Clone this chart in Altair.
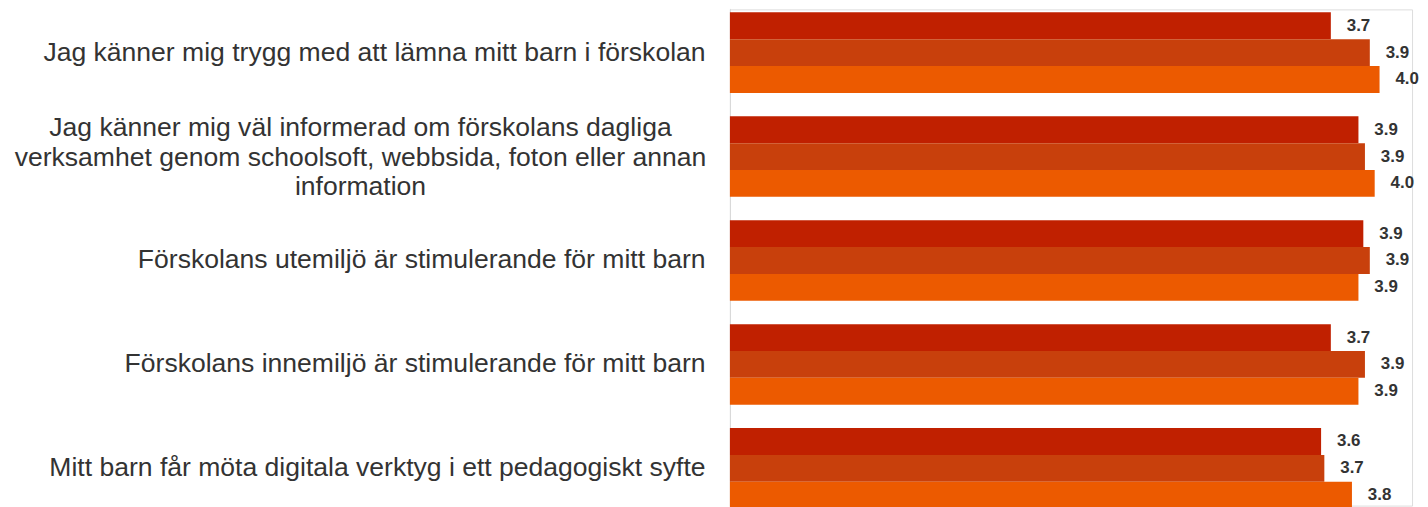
import json
import altair as alt
import pandas as pd

categories = [
    "Jag känner mig trygg med att lämna mitt barn i förskolan",
    "Jag känner mig väl informerad om förskolans dagliga verksamhet genom schoolsoft, webbsida, foton eller annan information",
    "Förskolans utemiljö är stimulerande för mitt barn",
    "Förskolans innemiljö är stimulerande för mitt barn",
    "Mitt barn får möta digitala verktyg i ett pedagogiskt syfte",
]
series = ["Serie 1", "Serie 2", "Serie 3"]
serie1 = [3.70, 3.87, 3.90, 3.70, 3.64]
serie2 = [3.94, 3.91, 3.94, 3.91, 3.66]
serie3 = [4.00, 3.97, 3.87, 3.87, 3.83]
colors = ["#C02000", "#C8400C", "#EC5A00"]

rows = []
for i, c in enumerate(categories):
    for s, vals in zip(series, [serie1, serie2, serie3]):
        rows.append({"category": c, "series": s, "value": vals[i]})
df = pd.DataFrame(rows)

long_label = categories[1]
long_lines = [
    "Jag känner mig väl informerad om förskolans dagliga",
    "verksamhet genom schoolsoft, webbsida, foton eller annan",
    "information",
]
long_json = json.dumps(long_label, ensure_ascii=False)

common_axis = dict(
    title=None,
    ticks=False,
    grid=False,
    labelFont="Liberation Sans",
    labelFontSize=26.7,
    labelColor="#333333",
    labelLimit=1000,
    labelLineHeight=29.5,
)

axis_single = alt.Axis(
    orient="left",
    domain=True,
    domainColor="#d9d9d9",
    labelPadding=25,
    labelExpr="datum.value == %s ? '' : datum.value" % long_json,
    **common_axis,
)
axis_multi = alt.Axis(
    orient="left",
    domain=False,
    labelPadding=372,
    labelAlign="center",
    labelOffset=-28.5,
    labelExpr="datum.value == %s ? %s : ''" % (long_json, json.dumps(long_lines, ensure_ascii=False)),
    **common_axis,
)

y_scale = alt.Scale(paddingInner=0.225, paddingOuter=0.038, range=[-1, 506])
yoff = alt.YOffset("series:N", sort=series, scale=alt.Scale(paddingInner=0, paddingOuter=0))
x_enc = alt.X("value:Q", scale=alt.Scale(domain=[0, 4.2], nice=False, zero=True), axis=None)

bars = alt.Chart(df).mark_bar().encode(
    y=alt.Y("category:N", sort=categories, scale=y_scale, axis=axis_single),
    yOffset=yoff,
    x=x_enc,
    color=alt.Color("series:N", sort=series, scale=alt.Scale(domain=series, range=colors), legend=None),
)
labels = alt.Chart(df).mark_text(
    align="left",
    baseline="middle",
    dx=16,
    font="Liberation Sans",
    fontSize=17,
    fontWeight="bold",
    color="#333333",
).encode(
    y=alt.Y("category:N", sort=categories, scale=y_scale, axis=axis_multi),
    yOffset=yoff,
    x=x_enc,
    text=alt.Text("value:Q", format=".1f"),
)

chart = (
    alt.layer(bars, labels)
    .resolve_axis(y="independent")
    .properties(
        width=686,
        height=499,
        autosize=alt.AutoSizeParams(type="none"),
        padding={"left": 726, "right": 8, "top": 0, "bottom": 0},
    )
    .configure_view(stroke=None)
    .configure(background="white")
)

chart.save("out.html", embed_options={"renderer": "svg", "actions": False})
